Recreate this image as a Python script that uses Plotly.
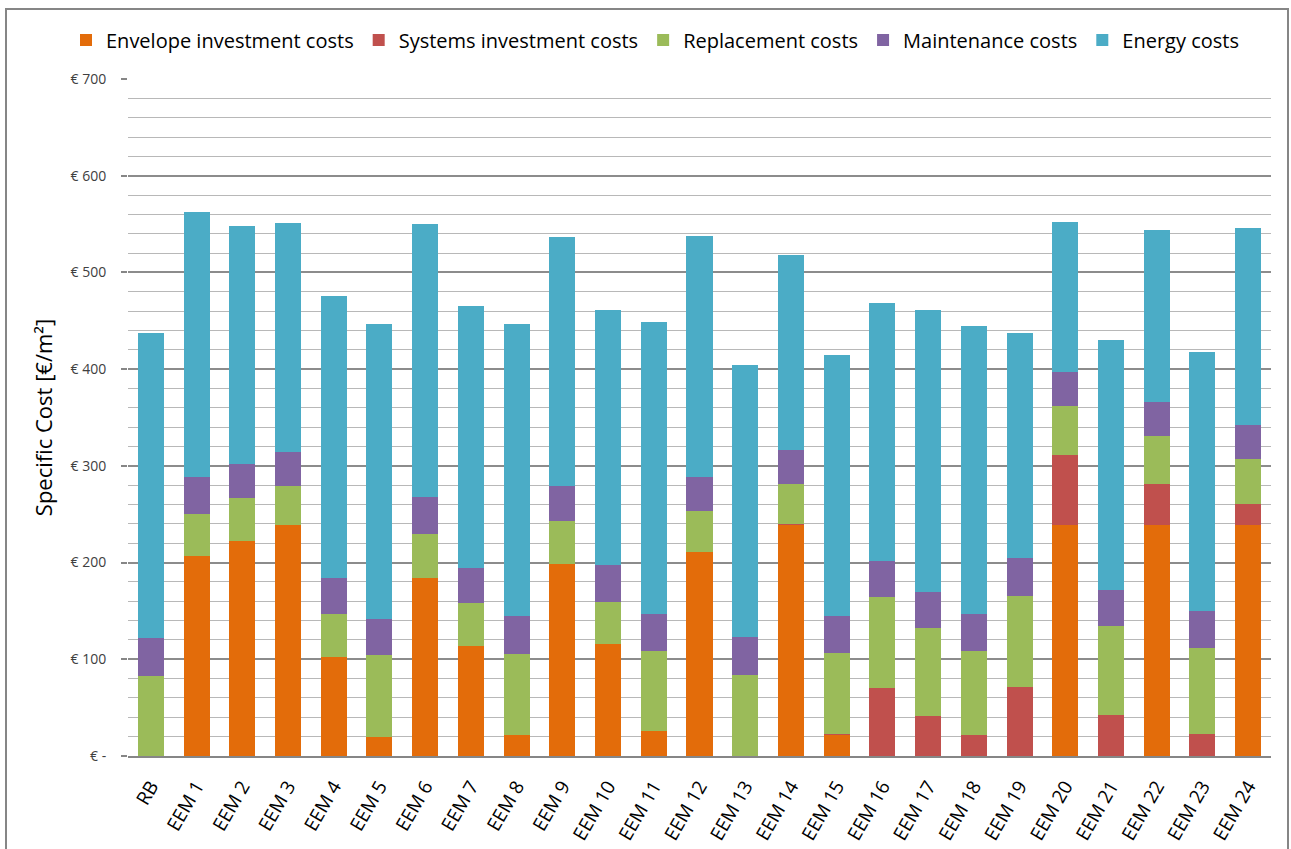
import plotly.graph_objects as go

# categories and stacked cost components (EUR/m2)
measures = ["RB"] + [f"EEM {i}" for i in range(1, 25)]

envelope = [0, 207, 222, 239, 102, 20, 184, 114, 22, 199, 116, 26, 211,
            0, 239, 22, 0, 0, 0, 0, 239, 0, 239, 0, 239]
systems = [0, 0, 0, 0, 0, 0, 0, 0, 0, 0, 0, 0, 0,
           0, 1, 1, 70, 41, 22, 71, 72, 42, 42, 23, 22]
replacement = [83, 43, 45, 40, 45, 84, 46, 44, 83, 44, 43, 83, 42,
               84, 41, 84, 94, 91, 87, 94, 51, 92, 50, 89, 46]
maintenance = [39, 38, 35, 35, 37, 38, 38, 36, 40, 36, 38, 38, 35,
               39, 35, 38, 38, 38, 38, 40, 35, 38, 35, 38, 35]
energy = [315, 274, 246, 237, 292, 305, 282, 271, 302, 258, 264, 302, 250,
          281, 202, 270, 266, 291, 298, 232, 155, 258, 178, 268, 204]

series = [
    ("Envelope investment costs", envelope, "#E36C0A"),
    ("Systems investment costs", systems, "#C0504D"),
    ("Replacement costs", replacement, "#9BBB59"),
    ("Maintenance costs", maintenance, "#8064A2"),
    ("Energy costs", energy, "#4BACC6"),
]

y_ticks = [0, 100, 200, 300, 400, 500, 600, 700]
y_ticktext = ["€ -", "€ 100", "€ 200", "€ 300", "€ 400", "€ 500", "€ 600", "€ 700"]

W, H = 1291, 849
L, R, T, B = 128, 20, 79, 93
pw, ph = W - L - R, H - T - B

fig = go.Figure()
for name, vals, col in series:
    fig.add_trace(go.Bar(x=measures, y=vals, name=name,
                         marker=dict(color=col, line=dict(width=0))))

fig.update_layout(
    barmode="stack",
    bargap=0.43,
    width=W, height=H,
    margin=dict(l=L, r=R, t=T, b=B, autoexpand=False),
    paper_bgcolor="white", plot_bgcolor="white",
    font=dict(family="Open Sans", color="#000000"),
    showlegend=True,
    # left-anchored a bit left of the plot so the single row can use the margin width
    legend=dict(orientation="h", x=(66 - L) / pw, xanchor="left",
                y=(H - B - 40) / ph, yanchor="middle", font=dict(size=20),
                itemwidth=30, traceorder="normal",
                bgcolor="rgba(0,0,0,0)"),
)

fig.update_yaxes(
    range=[0, 700], automargin=False,
    tickvals=y_ticks, ticktext=y_ticktext,
    tickfont=dict(size=14, color="#404040"),
    ticks="outside", ticklen=6, tickcolor="#868686", tickwidth=1.5,
    ticklabelstandoff=12,
    showgrid=True, gridcolor="#8c8c8c", gridwidth=1.5,
    minor=dict(dtick=20, showgrid=True, gridcolor="#b8b8b8", gridwidth=1),
    zeroline=False, showline=False,
    title=dict(text="Specific Cost [€/m²]", font=dict(size=22, color="#000000"),
               standoff=11),
)
fig.update_xaxes(
    tickangle=-60, automargin=False,
    tickfont=dict(size=19, color="#000000"),
    ticklabelstandoff=10,
    showline=True, linecolor="#868686", linewidth=1.5,
    showgrid=False, ticks="",
)

# outer chart-area frame
fig.add_shape(type="rect", xref="paper", yref="paper",
              x0=(6 - L) / pw, x1=(1288 - L) / pw,
              y0=(H - B - 870) / ph, y1=(H - B - 9) / ph,
              line=dict(color="#868686", width=2), layer="below")

fig.write_html("out.html", config={"displayModeBar": False},
               post_script="document.body.style.margin='0';")
